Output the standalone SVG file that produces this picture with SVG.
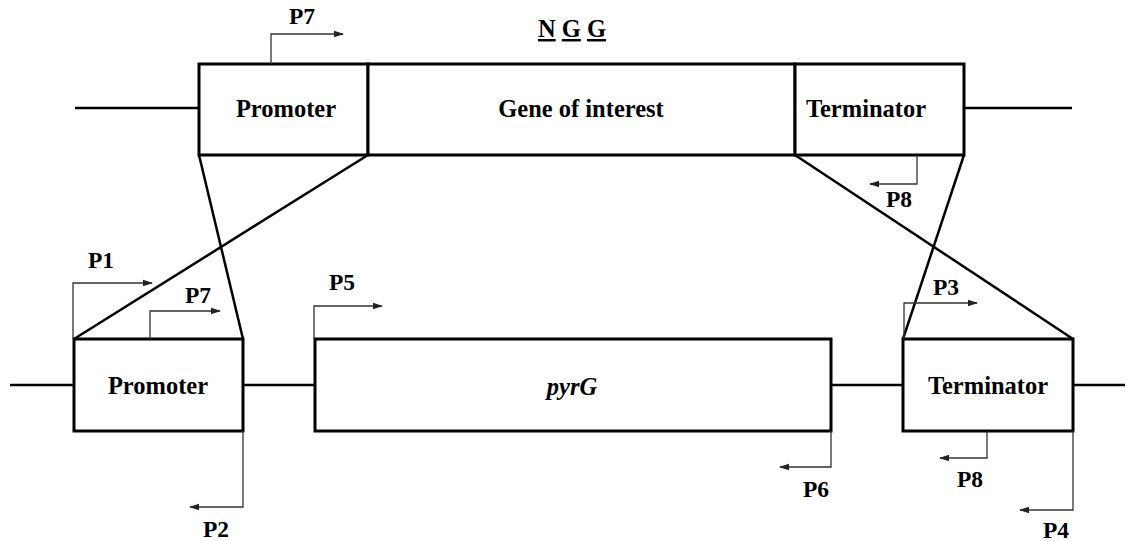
<svg xmlns="http://www.w3.org/2000/svg" width="1127" height="541" viewBox="0 0 1127 541">
<style>
.box{fill:#fff;stroke:#000;stroke-width:3}
.bb{stroke:#000;stroke-width:2.5;fill:none}
.cross{stroke:#000;stroke-width:2.5;fill:none}
.pr{stroke:#333;stroke-width:1.3;fill:none;marker-end:url(#ah)}
.lbl{font-weight:bold;font-size:24.5px;fill:#000;text-anchor:middle}
.pl{font-weight:bold;font-size:23.5px;fill:#000}
</style>
<defs>
<marker id="ah" markerWidth="10" markerHeight="8" refX="9" refY="4" orient="auto" markerUnits="userSpaceOnUse">
<path d="M0,0.8 L10,4 L0,7.2 Z" fill="#222"/>
</marker>
</defs>
<rect width="1127" height="541" fill="#fff"/>
<g id="connectors">
<line class="bb" x1="75" y1="108" x2="199" y2="108"/>
<line class="bb" x1="964" y1="108" x2="1072" y2="108"/>
<line class="bb" x1="10" y1="385" x2="74" y2="385"/>
<line class="bb" x1="243" y1="385" x2="315" y2="385"/>
<line class="bb" x1="831" y1="385" x2="903" y2="385"/>
<line class="bb" x1="1073" y1="385" x2="1125" y2="385"/>
<line class="cross" x1="199" y1="155" x2="243" y2="339"/>
<line class="cross" x1="368" y1="155" x2="74" y2="339"/>
<line class="cross" x1="795" y1="155" x2="1073" y2="339"/>
<line class="cross" x1="964" y1="155" x2="903" y2="339"/>
</g>
<g font-family="'Liberation Serif', 'Times New Roman', serif">
<g id="top-promoter"><rect class="box" x="199" y="64" width="169" height="91"/><text class="lbl" x="286" y="117">Promoter</text></g>
<g id="top-gene"><rect class="box" x="368" y="64" width="427" height="91"/><text class="lbl" x="581" y="117">Gene of interest</text></g>
<g id="top-terminator"><rect class="box" x="795" y="64" width="169" height="91"/><text class="lbl" x="866" y="117">Terminator</text></g>
<g id="low-promoter"><rect class="box" x="74" y="339" width="169" height="92"/><text class="lbl" x="158" y="394">Promoter</text></g>
<g id="low-pyrG"><rect class="box" x="315" y="339" width="516" height="92"/><text class="lbl" x="572" y="395" font-style="italic" font-weight="normal">pyrG</text></g>
<g id="low-terminator"><rect class="box" x="903" y="339" width="170" height="92"/><text class="lbl" x="988" y="394">Terminator</text></g>
<g id="NGG"><text class="lbl" x="572" y="37"><tspan text-decoration="underline">N</tspan> <tspan text-decoration="underline">G</tspan> <tspan text-decoration="underline">G</tspan></text></g>
<g id="primers">
<path class="pr" d="M271,64 V34 H343"/><text class="pl" x="289" y="24">P7</text>
<path class="pr" d="M917,155 V184 H870"/><text class="pl" x="886" y="207">P8</text>
<path class="pr" d="M73,339 V283 H152"/><text class="pl" x="88" y="268">P1</text>
<path class="pr" d="M150,339 V311 H220"/><text class="pl" x="185" y="303">P7</text>
<path class="pr" d="M243,431 V507 H190"/><text class="pl" x="203" y="537">P2</text>
<path class="pr" d="M314,339 V306 H382"/><text class="pl" x="329" y="290">P5</text>
<path class="pr" d="M831,431 V467 H780"/><text class="pl" x="803" y="497">P6</text>
<path class="pr" d="M904,339 V303 H977"/><text class="pl" x="933" y="295">P3</text>
<path class="pr" d="M987,431 V458 H940"/><text class="pl" x="957" y="487">P8</text>
<path class="pr" d="M1073,431 V510 H1020"/><text class="pl" x="1043" y="538">P4</text>
</g>
</g>
</svg>
